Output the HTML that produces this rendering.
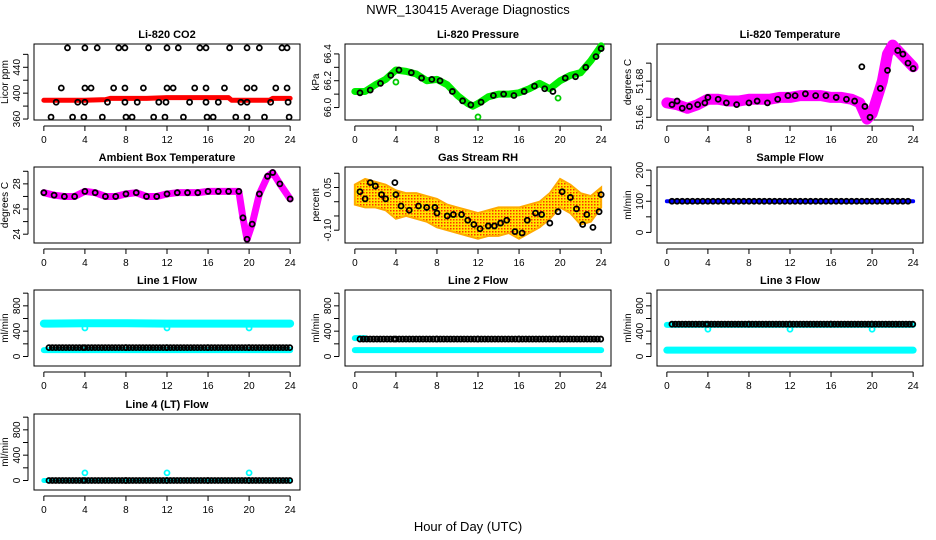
<!DOCTYPE html>
<html><head><meta charset="utf-8">
<style>
html,body{margin:0;padding:0;background:#fff;}
svg{display:block;font-family:"Liberation Sans",sans-serif;}
</style></head>
<body>
<svg id="chart" width="936" height="540" viewBox="0 0 936 540" xmlns="http://www.w3.org/2000/svg">
<defs>
<pattern id="rhpat" width="3" height="3" patternUnits="userSpaceOnUse">
<rect width="3" height="3" fill="#ffe600"/><rect width="1.5" height="1.5" fill="#ff3000"/>
</pattern>
</defs>
<text x="468" y="14" text-anchor="middle" font-size="13">NWR_130415  Average Diagnostics</text>
<text x="468" y="531" text-anchor="middle" font-size="13">Hour of Day (UTC)</text>
</svg>
<script>
// ---- data ----
const xTicks = [0,4,8,12,16,20,24];
const co2Hours = [2.3,4.0,5.2,7.3,7.9,10.2,12.0,13.1,15.2,15.8,18.1,19.8,21.0,23.2,23.7,
 1.7,4.0,4.6,6.8,7.9,9.7,12.0,12.6,14.7,15.8,17.6,19.8,20.5,22.6,23.7,
 1.2,3.3,4.0,6.2,7.9,9.1,11.2,11.9,14.2,15.8,17.0,19.2,19.8,22.1,23.8,
 0.7,2.8,3.9,5.7,8.0,8.6,10.7,11.8,13.6,15.9,16.5,18.7,19.8,21.5,23.9];
const co2Vals = [470,470,470,470,470,470,470,470,470,470,470,470,470,470,470,
 408,408,408,408,408,408,408,408,408,408,408,408,408,408,408,
 386,386,386,386,386,386,386,386,386,386,386,386,386,386,386,
 363,363,363,363,363,363,363,363,363,363,363,363,363,363,363];
const co2LineHours = [0,2,4,6,6.5,8,10,12,14,16,18,18.3,20,22,22.3,24];
const co2LineVals = [389,389,389,390,392,392,392,393,393,393,393,389,389,389,392,392];

const presHours = [0,1,2,3,4,5,6,7,8,9,10,11,11.5,12,13,14,15,16,17,18,19,20,21,22,23,24];
const presVals = [66.12,66.12,66.17,66.21,66.28,66.27,66.25,66.20,66.21,66.17,66.09,66.03,66.01,66.03,66.08,66.10,66.10,66.11,66.14,66.18,66.14,66.20,66.24,66.26,66.35,66.46];
const presPtH = [0.5,1.5,2.5,3.5,4.3,5.5,6.5,7.5,8.3,9.5,10.5,11.3,12.3,13.5,14.5,15.5,16.5,17.5,18.5,19.3,20.5,21.5,22.5,23.5,24];
const presPtV = [66.11,66.13,66.18,66.24,66.28,66.26,66.22,66.21,66.20,66.12,66.05,66.02,66.04,66.09,66.10,66.09,66.12,66.16,66.14,66.12,66.22,66.23,66.30,66.38,66.44];

const tempHours = [0,1,2,3,4,5,6,7,8,9,10,11,12,13,14,15,16,17,18,18.8,19.5,20,21,21.5,22,23,24];
const tempVals = [51.668,51.667,51.665,51.667,51.670,51.670,51.669,51.669,51.670,51.670,51.670,51.671,51.671,51.672,51.672,51.672,51.671,51.671,51.670,51.668,51.659,51.662,51.680,51.695,51.700,51.694,51.688];
const tempPtH = [0.5,1.0,1.5,2.2,3.0,3.7,4.0,5.0,5.8,6.8,8.0,8.8,9.8,10.8,11.8,12.5,13.5,14.5,15.5,16.5,17.5,18.3,19.0,19.3,19.8,20.8,21.5,22.5,23.0,23.5,24.0];
const tempPtV = [51.667,51.669,51.665,51.666,51.667,51.668,51.671,51.670,51.668,51.667,51.668,51.669,51.668,51.670,51.672,51.672,51.673,51.672,51.672,51.671,51.670,51.669,51.688,51.666,51.660,51.676,51.686,51.697,51.695,51.690,51.687];

const ambHours = [0,1,2,3,4,5,6,7,8,9,10,11,12,13,14,15,16,17,18,19,19.4,19.8,20.3,21,21.8,22.3,23,24];
const ambVals = [27.3,27.1,27.0,27.0,27.4,27.3,27.0,27.0,27.2,27.3,27.0,27.0,27.2,27.3,27.3,27.3,27.4,27.4,27.4,27.4,25.3,23.6,24.8,27.2,28.6,28.9,28.0,26.8];

const rhHours = [0,1,2,3,4,5,6,7,8,9,10,11,12,13,14,15,16,17,18,19,20,21,22,23,24];
const rhLow = [-0.01,-0.02,-0.02,-0.03,-0.06,-0.05,-0.06,-0.07,-0.09,-0.10,-0.11,-0.12,-0.13,-0.12,-0.12,-0.11,-0.13,-0.11,-0.09,-0.06,-0.02,-0.04,-0.08,-0.07,-0.02];
const rhHigh = [0.06,0.08,0.07,0.06,0.04,0.03,0.03,0.02,0.01,-0.01,-0.02,-0.03,-0.04,-0.03,-0.02,-0.02,-0.02,-0.01,0.00,0.03,0.08,0.06,0.03,0.02,0.05];
const rhPtH = [0.5,1.0,1.5,2.0,2.6,3.0,3.9,4.0,4.5,5.3,6.2,7.0,7.8,8.0,9.0,9.6,10.4,11.0,11.6,12.2,13.0,13.6,14.2,14.8,15.6,16.3,16.8,17.6,18.2,19.0,19.8,20.2,21.0,21.6,22.2,22.6,23.2,23.8,24.0];
const rhPtV = [0.035,0.01,0.067,0.055,0.025,0.01,0.067,0.025,-0.015,-0.03,-0.015,-0.02,-0.02,-0.04,-0.05,-0.045,-0.045,-0.065,-0.08,-0.095,-0.085,-0.085,-0.075,-0.065,-0.105,-0.11,-0.065,-0.04,-0.045,-0.075,-0.035,0.035,0.015,-0.025,-0.08,-0.045,-0.09,-0.035,0.025];

const sampleHours = [0,1,2,3,4,5,6,7,8,9,10,11,12,13,14,15,16,17,18,19,20,21,22,23,24];
const sampleVals = [100,100,99,99,99,100,100,100,100,100,100,100,100,100,100,100,100,100,100,100,100,100,100,100,100];

const flowHours = [0,0.5,4,8,12,16,20,24];
const line1Upper = [520,520,525,525,520,520,520,520];
const line1Lower = [100,100,100,100,100,100,100,100];
const line1Black = [140,140,140,140,140,140,140,140];
const line2Cyan = [100,100,100,100,100,100,100,100];
const line2Black = [280,275,275,275,275,275,275,275];
const line3Cyan = [100,100,100,100,100,100,100,100];
const line3Black = [510,510,510,510,510,510,510,510];
const line4Black = [0,0,0,0,0,0,0,0];
const line4OutH = [4,12,20];
const line4OutV = [120,120,120];

// ---- layout ----
const svg = document.getElementById('chart');
const NS = 'http://www.w3.org/2000/svg';
const colL = [34,345,657], rowT = [44,167,290,414], PW = 266, PH = 76;
function mk(tag, attrs, parent){const e=document.createElementNS(NS,tag);for(const k in attrs)e.setAttribute(k,attrs[k]);(parent||svg).appendChild(e);return e;}

function panel(c,r,title,ylab,ylim,yticks,ylabels,slug){
  const g = mk('g',{});
  
  
  const L=colL[c], T=rowT[r];
  const sx = h => L + (h+0.96)/25.92*PW;
  const sy = v => T + PH - (v-ylim[0])/(ylim[1]-ylim[0])*PH;
  const t = mk('text',{x:L+PW/2,y:T-6,'text-anchor':'middle','font-size':11,'font-weight':'bold'},g);
  t.textContent = title;
  
  
  const box = mk('rect',{x:L,y:T,width:PW,height:PH,fill:'none',stroke:'#000','stroke-width':1},g);
  
  
  const xa = mk('g',{},g);
  
  
  mk('line',{x1:sx(0),x2:sx(24),y1:T+PH+6,y2:T+PH+6,stroke:'#000'},xa);
  xTicks.forEach(h=>{
    mk('line',{x1:sx(h),x2:sx(h),y1:T+PH+6,y2:T+PH+11,stroke:'#000'},xa);
    const tl = mk('text',{x:sx(h),y:T+PH+23,'text-anchor':'middle','font-size':10},xa);
    tl.textContent = h;
  });
  const ya = mk('g',{},g);
  
  
  mk('line',{x1:L-6,x2:L-6,y1:sy(yticks[0]),y2:sy(yticks[yticks.length-1]),stroke:'#000'},ya);
  yticks.forEach(v=>{ mk('line',{x1:L-11,x2:L-6,y1:sy(v),y2:sy(v),stroke:'#000'},ya); });
  ylabels.forEach(v=>{
    const yl = mk('text',{x:0,y:0,'text-anchor':'middle','font-size':10,transform:`translate(${L-14},${sy(v)}) rotate(-90)`},ya);
    yl.textContent = v;
  });
  const yt = mk('text',{x:0,y:0,'text-anchor':'middle','font-size':10,transform:`translate(${L-26},${T+PH/2}) rotate(-90)`},g);
  yt.textContent = ylab;
  
  
  const clip = mk('g',{},g);
  return {g:clip,sx,sy};
}
function band(p,hs,vs,color,w,name){
  const pl = mk('polyline',{points:hs.map((h,i)=>p.sx(h)+','+p.sy(vs[i])).join(' '),fill:'none',stroke:color,'stroke-width':w,'stroke-linejoin':'round','stroke-linecap':'round'},p.g);
  
  
}
function pts(p,hs,vs,color,name){
  const g = mk('g',{},p.g);
  
  
  hs.forEach((h,i)=>mk('circle',{cx:p.sx(h),cy:p.sy(vs[i]),r:2.5,fill:'none',stroke:color,'stroke-width':1.8},g));
}
function ptsRow(p,hs,vs,color,step,name){
  const g = mk('g',{},p.g);
  
  
  for(let i=0;i<hs.length-1;i++){
    for(let h=hs[i];h<hs[i+1];h+=step){
      const f=(h-hs[i])/(hs[i+1]-hs[i]);
      mk('circle',{cx:p.sx(h),cy:p.sy(vs[i]+(vs[i+1]-vs[i])*f),r:2.5,fill:'none',stroke:color,'stroke-width':1.8},g);
    }
  }
}

// Row 1
let p = panel(0,0,'Li-820 CO2','Licor ppm',[358.5,476],[360,380,400,420,440,460],['360','400','440'],'co2');
band(p,co2LineHours,co2LineVals,'#ff0000',5,'co2-average-line');
pts(p,co2Hours,co2Vals,'#000','co2-points');

p = panel(1,0,'Li-820 Pressure','kPa',[65.907,66.474],[66.0,66.1,66.2,66.3,66.4],['66.0','66.2','66.4'],'pressure');
band(p,presHours,presVals,'#00ee00',7,'pressure-average-line');
pts(p,[4.0,19.8,12.0],[66.19,66.07,65.93],'#00cc00','pressure-outliers');
pts(p,presPtH,presPtV,'#000','pressure-points');

p = panel(2,0,'Li-820 Temperature','degrees C',[51.6585,51.7006],[51.66,51.67,51.68,51.69],['51.66','51.68'],'temperature');
band(p,tempHours,tempVals,'#ff00ff',11,'temperature-average-line');
pts(p,tempPtH,tempPtV,'#000','temperature-points');

// Row 2
p = panel(0,1,'Ambient Box Temperature','degrees C',[23.3,29.34],[24,25,26,27,28,29],['24','26','28'],'ambient');
band(p,ambHours,ambVals,'#ff00ff',7,'ambient-average-line');
pts(p,ambHours,ambVals,'#000','ambient-points');

p = panel(1,1,'Gas Stream RH','percent',[-0.145,0.122],[-0.10,-0.05,0,0.05,0.10],['-0.10','0.05'],'rh');
{
  const poly = mk('polygon',{points:rhHours.map((h,i)=>p.sx(h)+','+p.sy(rhHigh[i])).concat(rhHours.slice().reverse().map((h,i)=>p.sx(h)+','+p.sy(rhLow[rhLow.length-1-i]))).join(' '),fill:'url(#rhpat)',stroke:'#ffaa00','stroke-width':2},p.g);
  
  
}
pts(p,rhPtH,rhPtV,'#000','rh-points');

p = panel(2,1,'Sample Flow','ml/min',[-34,210],[0,50,100,150,200],['0','100','200'],'sample-flow');
band(p,sampleHours,sampleVals,'#0000ff',4,'sample-flow-line');
ptsRow(p,[0.5,24],[100,100],'#000',0.5,'sample-flow-points');

// Row 3
const fl=[-150,1050], ft=[0,200,400,600,800,1000], fl2=['0','400','800'];
p = panel(0,2,'Line 1 Flow','ml/min',fl,ft,fl2,'line1');
band(p,flowHours,line1Upper,'#00ffff',8,'line1-upper-band');
band(p,flowHours,line1Lower,'#00ffff',6,'line1-lower-band');
pts(p,[4,12,20],[450,450,450],'#00ffff','line1-dips');
ptsRow(p,flowHours.slice(1),line1Black.slice(1),'#000',0.33,'line1-points');

p = panel(1,2,'Line 2 Flow','ml/min',fl,ft,fl2,'line2');
band(p,flowHours,line2Cyan,'#00ffff',6,'line2-band');
band(p,[0,1],[290,290],'#00ffff',6,'line2-start');
ptsRow(p,flowHours.slice(1),line2Black.slice(1),'#000',0.33,'line2-points');

p = panel(2,2,'Line 3 Flow','ml/min',fl,ft,fl2,'line3');
band(p,flowHours,line3Cyan,'#00ffff',7,'line3-band');
band(p,[0,24],[500,500],'#00ffff',6,'line3-upper-band');
pts(p,[4,12,20],[430,430,430],'#00ffff','line3-dips');
ptsRow(p,flowHours.slice(1),line3Black.slice(1),'#000',0.33,'line3-points');

// Row 4
p = panel(0,3,'Line 4 (LT) Flow','ml/min',fl,ft,fl2,'line4');
band(p,[0,24],[0,0],'#00ffff',5,'line4-band');
pts(p,line4OutH,line4OutV,'#00ffff','line4-outliers');
ptsRow(p,flowHours.slice(1),line4Black.slice(1),'#000',0.33,'line4-points');
</script>
</body></html>
